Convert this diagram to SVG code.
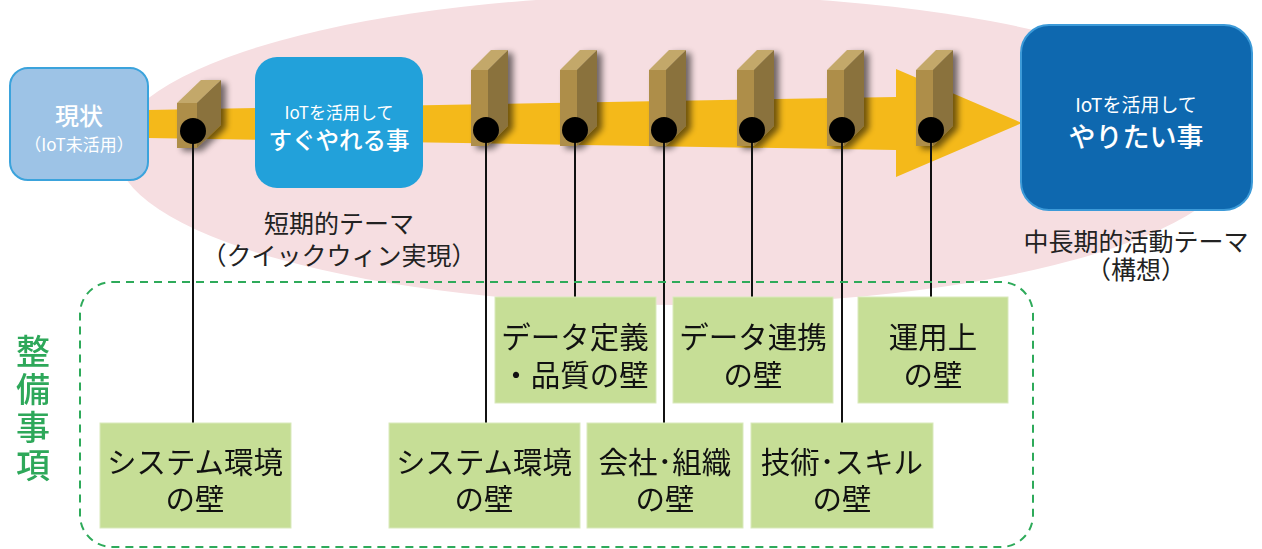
<svg xmlns="http://www.w3.org/2000/svg" width="1262" height="549" viewBox="0 0 1262 549">
  <defs>
    <style>
      text { font-family: "Noto Sans CJK JP", "Noto Sans", sans-serif; }
      .white { fill: #ffffff; text-anchor: middle; dominant-baseline: central; }
      .caption { fill: #222222; font-size: 25px; text-anchor: middle; dominant-baseline: central; }
      .wallbox { fill: #C6DE96; stroke: #D9E9BC; stroke-width: 1; }
      .walltext { fill: #111111; font-size: 29.5px; text-anchor: middle; dominant-baseline: central; }
      .link { stroke: #111111; stroke-width: 2; fill: none; }
      .dot { fill: #000000; }
      .front { fill: #AE8E48; }
      .top { fill: #C3A86B; }
      .side { fill: #8A723C; }
    </style>
    <filter id="shade" x="-50%" y="-50%" width="220%" height="200%">
      <feGaussianBlur in="SourceAlpha" stdDeviation="3"/>
      <feOffset dx="5" dy="3" result="b"/>
      <feComponentTransfer><feFuncA type="linear" slope="0.55"/></feComponentTransfer>
      <feMerge><feMergeNode/><feMergeNode in="SourceGraphic"/></feMerge>
    </filter>
    <!-- tall block -->
    <g id="block">
      <rect class="front" x="0" y="0" width="17" height="76"/>
      <polygon class="top" points="0,0 17,0 37,-20 20,-20"/>
      <polygon class="side" points="17,0 37,-20 37,56 17,76"/>
    </g>
    <!-- short block -->
    <g id="blockShort">
      <rect class="front" x="0" y="0" width="20" height="45"/>
      <polygon class="top" points="0,0 20,0 44,-23 24,-23"/>
      <polygon class="side" points="20,0 44,-23 44,22 20,45"/>
    </g>
  </defs>

  <rect width="1262" height="549" fill="#ffffff"/>

  <!-- background field -->
  <ellipse cx="678" cy="150" rx="562" ry="155" fill="#F6DEE1"/>

  <!-- progress arrow -->
  <polygon points="148,110 896,97 896,69 1022,123 896,177 896,150 148,138" fill="#F4B91A"/>

  <!-- start node -->
  <g id="current">
    <rect x="10" y="68" width="138" height="112" rx="18" fill="#9DC3E6" stroke="#3BA3DC" stroke-width="2"/>
    <text class="white"><tspan x="79" y="114" font-size="24" font-weight="500">現状</tspan><tspan x="79" y="143" font-size="17">（IoT未活用）</tspan></text>
  </g>

  <!-- short-term node -->
  <g id="quickwin">
    <rect x="255" y="57" width="168" height="131" rx="22" fill="#22A1DA"/>
    <text class="white"><tspan x="339" y="111" font-size="17">IoTを活用して</tspan><tspan x="339" y="139" font-size="23.5" font-weight="500">すぐやれる事</tspan></text>
    <text class="caption"><tspan x="339" y="222">短期的テーマ</tspan><tspan x="339" y="254">（クイックウィン実現）</tspan></text>
  </g>

  <!-- long-term node -->
  <g id="vision">
    <rect x="1021" y="25" width="231" height="185" rx="28" fill="#0E68AF" stroke="#3C9AD8" stroke-width="2"/>
    <text class="white"><tspan x="1136" y="103" font-size="19">IoTを活用して</tspan><tspan x="1136" y="135" font-size="27" font-weight="500">やりたい事</tspan></text>
    <text class="caption"><tspan x="1136" y="240">中長期的活動テーマ</tspan><tspan x="1136" y="268">（構想）</tspan></text>
  </g>

  <!-- blocks on the arrow -->
  <g id="blocks" filter="url(#shade)">
    <use href="#blockShort" x="177" y="103"/>
    <use href="#block" x="471" y="70"/>
    <use href="#block" x="560" y="70"/>
    <use href="#block" x="649" y="70"/>
    <use href="#block" x="737" y="70"/>
    <use href="#block" x="827" y="70"/>
    <use href="#block" x="916" y="70"/>
  </g>

  <!-- connectors -->
  <g id="connectors">
    <line class="link" x1="193" y1="131" x2="193" y2="424"/>
    <line class="link" x1="486" y1="130" x2="486" y2="424"/>
    <line class="link" x1="575" y1="130" x2="575" y2="297"/>
    <line class="link" x1="664" y1="130" x2="664" y2="424"/>
    <line class="link" x1="752" y1="130" x2="752" y2="297"/>
    <line class="link" x1="842" y1="130" x2="842" y2="424"/>
    <line class="link" x1="931" y1="130" x2="931" y2="297"/>
    <circle class="dot" cx="193" cy="131" r="13"/>
    <circle class="dot" cx="486" cy="130" r="13"/>
    <circle class="dot" cx="575" cy="130" r="13"/>
    <circle class="dot" cx="664" cy="130" r="13"/>
    <circle class="dot" cx="752" cy="130" r="13"/>
    <circle class="dot" cx="842" cy="130" r="13"/>
    <circle class="dot" cx="931" cy="130" r="13"/>
  </g>

  <!-- items to prepare -->
  <g id="prep-area">
    <rect x="80" y="282" width="953" height="265" rx="32" fill="none" stroke="#2EAA5A" stroke-width="2" stroke-dasharray="8 6"/>
    <text x="33" y="334" writing-mode="vertical-rl" fill="#2EA85A" font-size="34" font-weight="500" letter-spacing="4">整備事項</text>
  </g>

  <g id="wall-system-1">
    <rect class="wallbox" x="100" y="423" width="191" height="105"/>
    <text class="walltext"><tspan x="195" y="460">システム環境</tspan><tspan x="195" y="497">の壁</tspan></text>
  </g>
  <g id="wall-system-2">
    <rect class="wallbox" x="389" y="423" width="191" height="105"/>
    <text class="walltext"><tspan x="484" y="460">システム環境</tspan><tspan x="484" y="497">の壁</tspan></text>
  </g>
  <g id="wall-data-def">
    <rect class="wallbox" x="495" y="297" width="161" height="106"/>
    <text class="walltext"><tspan x="575" y="335">データ定義</tspan><tspan x="575" y="373">・品質の壁</tspan></text>
  </g>
  <g id="wall-org">
    <rect class="wallbox" x="587" y="423" width="156" height="105"/>
    <text class="walltext"><tspan x="665" y="460">会社･組織</tspan><tspan x="665" y="497">の壁</tspan></text>
  </g>
  <g id="wall-data-link">
    <rect class="wallbox" x="673" y="297" width="160" height="106"/>
    <text class="walltext"><tspan x="753" y="335">データ連携</tspan><tspan x="753" y="373">の壁</tspan></text>
  </g>
  <g id="wall-operation">
    <rect class="wallbox" x="858" y="297" width="150" height="106"/>
    <text class="walltext"><tspan x="933" y="335">運用上</tspan><tspan x="933" y="373">の壁</tspan></text>
  </g>
  <g id="wall-skill">
    <rect class="wallbox" x="751" y="423" width="182" height="105"/>
    <text class="walltext"><tspan x="842" y="460">技術･スキル</tspan><tspan x="842" y="497">の壁</tspan></text>
  </g>
</svg>
